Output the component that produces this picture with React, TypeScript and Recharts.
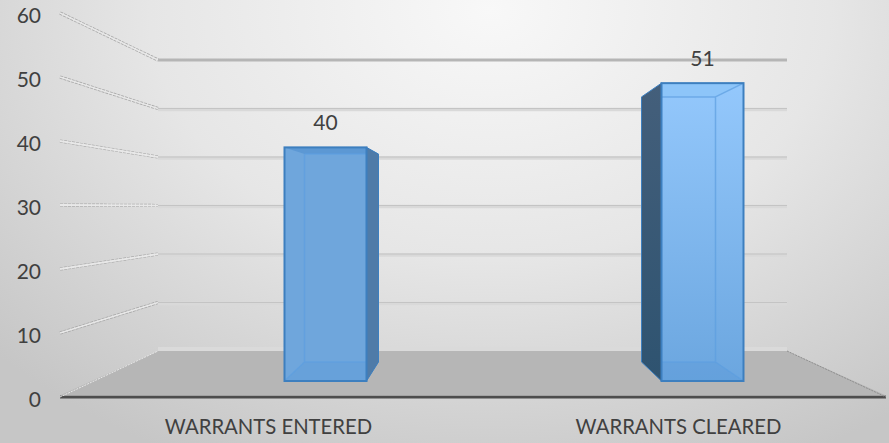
import React from "react";
import { ComposedChart, Bar, Line, XAxis, YAxis, LabelList } from "recharts";

const categories = ["WARRANTS ENTERED", "WARRANTS CLEARED"];
const warrants = [40, 51];
const yTicks = [0, 10, 20, 30, 40, 50, 60];
const rows = categories.map((category, i) => ({ category, warrants: warrants[i] }));

const FONT = "Lato, 'Open Sans', sans-serif";
const TEXT = "#404040";

const backY = (y: number) => 351 - ((397 - y) * 48.5) / 64;

function WallTick(props: any) {
  const { y, payload } = props;
  const v = payload.value;
  const by = backY(y);
  const side = `M60 ${y} L158 ${by}`;
  return (
    <g>
      {v === 0 ? (
        <>
          <rect x={158} y={by - 4} width={629} height={4} fill="#dadada" />
          <path d={`M60 ${y - 1.5} L158 ${by} L787 ${by} L886 ${y - 1.5} Z`} fill="#b6b6b6" />
          <path d={side} stroke="#e8e8e8" strokeWidth={1} strokeDasharray="2 1" fill="none" />
          <path d={`M787 ${by} L886 ${y}`} stroke="#8f8f8f" strokeWidth={1} strokeDasharray="2 1" fill="none" />
        </>
      ) : (
        <>
          <path d={side} stroke="#a8a8a8" strokeWidth={3.2} strokeDasharray="3 1" fill="none" />
          <path d={side} stroke="#e8e8e8" strokeWidth={1.8} fill="none" />
          {v === 60 ? (
            <path d={`M158 ${by} L787 ${by}`} stroke="#b5b5b5" strokeWidth={3} fill="none" />
          ) : (
            <>
              <path d={`M158 ${by + 1} L787 ${by + 1}`} stroke="#d9d9d9" strokeWidth={3.5} fill="none" />
              <path d={`M158 ${by} L787 ${by}`} stroke="#c4c4c4" strokeWidth={1.2} fill="none" />
            </>
          )}
        </>
      )}
      <text x={41} y={y + 1} textAnchor="end" dominantBaseline="central" fontFamily={FONT} fontSize={21} fill={TEXT}>
        {v}
      </text>
    </g>
  );
}

function CategoryTick(props: any) {
  const { x, y, payload, index } = props;
  return (
    <text x={x + (index === 0 ? 2 : -1)} y={y + 29} textAnchor="middle" fontFamily={FONT} fontSize={20.3} fill={TEXT}>
      {payload.value}
    </text>
  );
}

function Box3D(props: any) {
  const { x, y, width, height, index } = props;
  const bottom = y + height;
  const bBottom = bottom - 19;
  const bTop = bBottom - height * 0.89;
  const bx = index === 0 ? x + 20 : x - 20;
  const bw = 74;
  const r = x + width;
  const br = bx + bw;
  const first = index === 0;
  const frontFill = first ? "#6fa6dc" : "url(#frontGrad)";
  const edge = "#3d7fbf";
  return (
    <g>
      <rect x={x} y={y} width={width} height={height} fill={frontFill} />
      <path d={`M${x} ${y} L${r} ${y} L${br} ${bTop} L${bx} ${bTop} Z`} fill={first ? "#5c98d4" : "#8dc5f9"} />
      <path d={`M${x} ${bottom} L${r} ${bottom} L${br} ${bBottom} L${bx} ${bBottom} Z`} fill="#5a97d6" fillOpacity={0.35} />
      {first ? (
        <path d={`M${r} ${y} L${br} ${bTop} L${br} ${bBottom} L${r} ${bottom} Z`} fill="#4f7ba8" stroke={edge} strokeWidth={1} />
      ) : (
        <path d={`M${x} ${y} L${bx} ${bTop} L${bx} ${bBottom} L${x} ${bottom} Z`} fill="url(#sideGrad)" stroke={edge} strokeWidth={1} />
      )}
      <path
        d={
          first
            ? `M${bx} ${bTop} L${bx} ${bBottom} L${r} ${bBottom} M${x} ${bottom} L${bx} ${bBottom} M${bx} ${bTop} L${r} ${bTop}`
            : `M${br} ${bTop} L${br} ${bBottom} L${x} ${bBottom} M${r} ${bottom} L${br} ${bBottom} M${r} ${y} L${br} ${bTop} M${br} ${bTop} L${x} ${bTop}`
        }
        stroke="#5c9ee0"
        strokeOpacity={0.7}
        strokeWidth={1.5}
        fill="none"
      />
      <rect x={x} y={y} width={width} height={height} fill="none" stroke={edge} strokeWidth={2} />
    </g>
  );
}

export default function App() {
  const layer: React.CSSProperties = { position: "absolute", left: 0, top: 0 };
  return (
    <div
      style={{
        position: "absolute",
        left: 0,
        top: 0,
        width: 889,
        height: 443,
        overflow: "hidden",
        background: "radial-gradient(ellipse 680px 500px at 490px 10px, #f8f8f8 0%, #e6e6e6 50%, #c6c6c6 100%)",
      }}
    >
      <div style={layer}>
        <ComposedChart width={889} height={443} data={rows} margin={{ top: 13, right: 3, bottom: 0, left: 0 }}>
          <YAxis width={60} domain={[0, 60]} ticks={yTicks} interval={0} axisLine={false} tickLine={false} tick={WallTick} />
          <XAxis
            dataKey="category"
            scale="band"
            height={46}
            interval={0}
            tickLine={false}
            axisLine={{ stroke: "#4d4d4d", strokeWidth: 3 }}
            tick={CategoryTick}
          />
          <Line dataKey="warrants" stroke="none" dot={false} legendType="none" isAnimationActive={false} />
        </ComposedChart>
      </div>
      <div style={layer}>
        <ComposedChart width={889} height={443} data={rows} margin={{ top: 13, right: 3, bottom: 46, left: 60 }} barCategoryGap={0}>
          <defs>
            <linearGradient id="frontGrad" x1="0" y1="0" x2="0" y2="1">
              <stop offset="0%" stopColor="#94c8fc" />
              <stop offset="100%" stopColor="#6ba6df" />
            </linearGradient>
            <linearGradient id="sideGrad" x1="0" y1="0" x2="0" y2="1">
              <stop offset="0%" stopColor="#445f7b" />
              <stop offset="100%" stopColor="#2e5370" />
            </linearGradient>
          </defs>
          <YAxis hide domain={[-2.74, 63.01]} allowDataOverflow />
          <XAxis dataKey="category" hide padding={{ left: 76.5, right: -4.5 }} />
          <Bar dataKey="warrants" barSize={82} isAnimationActive={false} shape={Box3D}>
            <LabelList dataKey="warrants" position="top" offset={17} fontFamily={FONT} fontSize={21} fill={TEXT} />
          </Bar>
        </ComposedChart>
      </div>
    </div>
  );
}
